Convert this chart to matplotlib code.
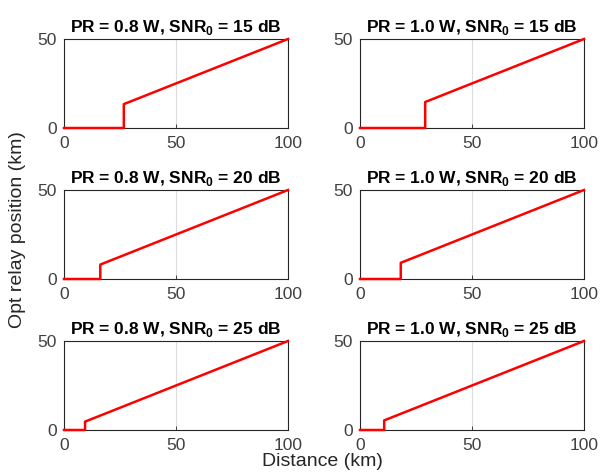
import matplotlib
matplotlib.use("Agg")
import matplotlib.pyplot as plt

plt.rcParams['font.family'] = ['Liberation Sans', 'DejaVu Sans']
plt.rcParams['mathtext.fontset'] = 'custom'
plt.rcParams['mathtext.rm'] = 'Liberation Sans'
plt.rcParams['mathtext.bf'] = 'Liberation Sans:bold'

# Data
powers = ["0.8", "1.0"]
snrs = ["15", "20", "25"]
# threshold distance (km) where the relay becomes useful, per (snr row, power col)
thresholds = [[26.7, 29.1],
              [16.2, 18.2],
              [9.4, 10.8]]
# relay position right after the jump (km)
jump_heights = [[13.4, 14.6],
                [8.1, 9.1],
                [4.7, 5.4]]
x_end = 100
y_end = 50
xticks = [0, 50, 100]
yticks = [0, 50]

fig = plt.figure(figsize=(6.03, 4.74), dpi=100)
W, H = 603, 474
col_left = [64, 360]
ax_w = 224
row_top = [39, 190, 341]
ax_h = 89
gray = '#262626'

for r in range(3):
    for c in range(2):
        ax = fig.add_axes([col_left[c] / W, 1 - (row_top[r] + ax_h) / H, ax_w / W, ax_h / H])
        t = thresholds[r][c]
        h = jump_heights[r][c]
        xs = [0, t, t, x_end]
        ys = [0, 0, h, y_end]
        ax.plot(xs, ys, color='#ff0000', lw=1.8, clip_on=False, zorder=3)
        ax.set_xlim(0, 100)
        ax.set_ylim(0, 50)
        ax.set_xticks(xticks)
        ax.set_yticks(yticks)
        ax.grid(True, color='#dcdcdc', lw=0.8)
        ax.set_axisbelow(True)
        ax.tick_params(direction='in', length=3, width=0.6, colors=gray,
                       labelsize=12.5, labelcolor='#404040')
        ax.tick_params(axis='x', pad=6)
        ax.tick_params(axis='y', pad=5)
        for s in ax.spines.values():
            s.set_color(gray)
            s.set_linewidth(0.8)
        ax.set_title(r"PR = %s W, SNR$_\mathbf{0}$ = %s dB" % (powers[c], snrs[r]),
                     fontsize=12.5, fontweight='bold', pad=5)

fig.text(322 / W, 1 - 462 / H, "Distance (km)", ha='center', va='center', fontsize=14, color='#262626')
fig.text(18 / W, 1 - 230 / H, "Opt relay position (km)", ha='center', va='center',
         rotation=90, fontsize=14, color='#262626')

fig.savefig("out.png", dpi=100)
